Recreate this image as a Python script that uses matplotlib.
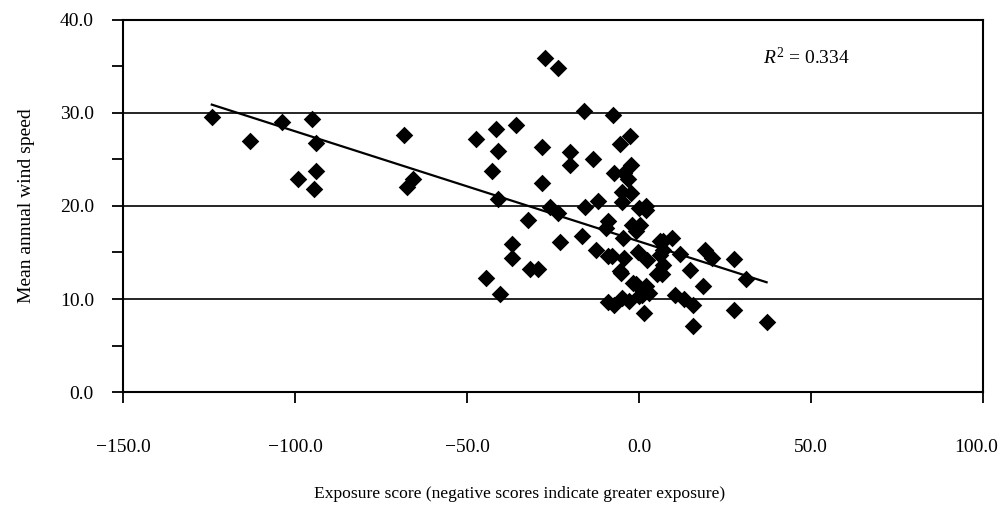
import matplotlib
matplotlib.use("Agg")
import matplotlib.pyplot as plt
from matplotlib.ticker import MultipleLocator, FormatStrFormatter
from matplotlib.transforms import ScaledTranslation

plt.rcParams['font.family'] = ['Liberation Serif', 'DejaVu Serif']
plt.rcParams['mathtext.fontset'] = 'custom'
plt.rcParams['mathtext.rm'] = 'Liberation Serif'
plt.rcParams['mathtext.it'] = 'Liberation Serif:italic'

# Exposure score vs mean annual wind speed
exposure = [
    -124.2, -113.1, -103.9, -95.2, -93.9, -93.9, -99.0, -94.6, -68.4, -65.6, -67.4,
    -27.2, -23.6, -16.1, -7.6, -47.4, -41.6, -35.8, -41.1, -28.3, -20.1, -20.1,
    -13.3, -2.7, -5.6, -42.8, -28.3, -2.2, -7.4, -4.5, -3.3, -5.0, -2.2, -4.9,
    -41.1, -25.9, -23.5, -15.7, -11.9, 0.0, 1.9, 1.9, -32.4, -9.0, -9.6, -2.1,
    0.3, -0.9, -4.7, -37.0, -23.0, -16.6, 6.1, -37.0, -12.6, -9.1, -7.8, -4.4,
    -0.3, 2.3, 6.1, 6.9, -31.8, -29.3, -5.5, -5.2, 5.1, 6.7, -44.4, -1.8, -0.8,
    2.0, 2.9, 0.9, -40.4, -9.1, -7.3, -4.9, -2.8, 0.1, 1.5,
    9.5, 7.1, 11.9, 19.2, 21.1, 27.6, 31.1, 14.8, 6.9, 18.7, 10.5, 13.1, 15.8,
    27.6, 15.8, 37.1,
]
wind_speed = [
    29.6, 27.0, 29.0, 29.4, 26.8, 23.8, 22.9, 21.8, 27.6, 22.9, 22.0,
    35.9, 34.8, 30.2, 29.8, 27.2, 28.3, 28.7, 25.9, 26.3, 25.8, 24.4,
    25.1, 27.5, 26.7, 23.8, 22.5, 24.4, 23.5, 23.6, 22.9, 21.5, 21.4, 20.4,
    20.8, 19.9, 19.2, 19.9, 20.5, 19.8, 20.0, 19.6, 18.5, 18.4, 17.6, 18.0,
    18.0, 17.3, 16.6, 15.9, 16.1, 16.8, 16.2, 14.4, 15.3, 14.6, 14.6, 14.4,
    15.1, 14.2, 14.7, 15.3, 13.2, 13.2, 13.0, 12.8, 12.7, 12.7, 12.3, 11.7, 11.6,
    11.4, 10.6, 10.4, 10.5, 9.7, 9.4, 10.1, 9.8, 10.3, 8.5,
    16.6, 16.2, 14.8, 15.3, 14.4, 14.3, 12.2, 13.1, 13.7, 11.4, 10.4, 10.0, 9.4,
    8.8, 7.1, 7.5,
]

# linear trend line end points
trend_x = [-124.2, 37.1]
trend_y = [30.9, 11.8]
r_squared = 0.334

x_ticks = [-150, -100, -50, 0, 50, 100]

fig = plt.figure(figsize=(10.02, 5.07), dpi=100)
ax = fig.add_axes((0.1228, 0.2268, 0.8582, 0.7338))

ax.scatter(exposure, wind_speed, marker='D', s=80, color='black', linewidths=0, zorder=3)
ax.plot(trend_x, trend_y, color='black', linewidth=1.6, zorder=4)

ax.set_xticks(x_ticks)
ax.set_xticklabels([f"{v:.1f}".replace('-', '\u2212') for v in x_ticks])
ax.set_xlim(-150, 100)
ax.set_ylim(0, 40)
ax.yaxis.set_major_locator(MultipleLocator(10))
ax.yaxis.set_minor_locator(MultipleLocator(5))
ax.yaxis.set_major_formatter(FormatStrFormatter('%.1f'))

ax.tick_params(axis='both', which='both', direction='out', length=8, width=1.3, labelsize=14)
ax.tick_params(axis='x', pad=26)
ax.tick_params(axis='y', pad=13)

# keep the last x label inside the figure
last = ax.get_xticklabels()[-1]
last.set_transform(last.get_transform() + ScaledTranslation(-5 / 72, 0, fig.dpi_scale_trans))

ax.grid(axis='y', which='major', color='black', linewidth=1.2)
for sp in ax.spines.values():
    sp.set_linewidth(1.5)

ax.text(0.795, 0.90, r'$R^2$ = ' + f'{r_squared:.3f}', transform=ax.transAxes,
        fontsize=14, va='center', ha='center')

ax.set_ylabel('Mean annual wind speed', fontsize=14, labelpad=18)
fig.text(520 / 1002, 1 - 494 / 507, 'Exposure score (negative scores indicate greater exposure)',
         fontsize=12.6, ha='center', va='center')

fig.savefig('out.png', dpi=100)
